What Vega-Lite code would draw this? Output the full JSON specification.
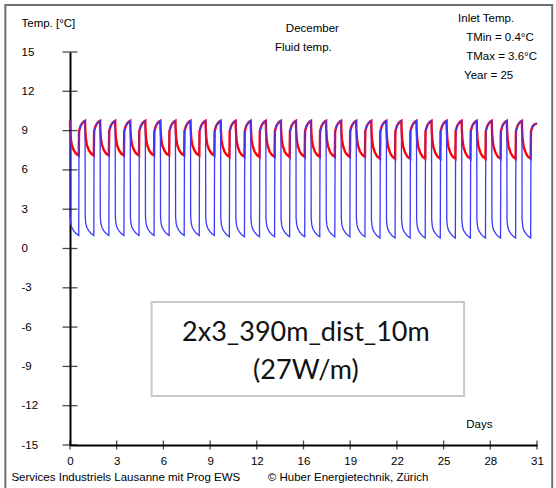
{
  "$schema": "https://vega.github.io/schema/vega-lite/v6.json",
  "autosize": "none",
  "width": 467,
  "height": 393,
  "padding": {"left": 70, "top": 52, "right": 19, "bottom": 43},
  "background": "white",
  "config": {
    "view": {"stroke": null},
    "axis": {"grid": false, "ticks": false, "tickSize": 0, "domainColor": "black", "domainWidth": 2, "labelFont": "Liberation Sans", "labelFontSize": 11.5, "labelColor": "black", "labelOverlap": false}
  },
  "datasets": {
    "frame": [{"x": -4.29, "x2": 32.01, "y": 18.59, "y2": -18.44}],
    "box": [{"x": 5.42, "x2": 26.16, "y": -4.08, "y2": -11.26}],
    "big": [{"x": 15.66, "y": -6.43, "t": "2x3_390m_dist_10m"}, {"x": 15.66, "y": -9.33, "t": "(27W/m)"}],
    "small": [
      {"x": -3.22, "y": 17.14, "t": "Temp. [°C]"},
      {"x": 14.33, "y": 16.76, "t": "December"},
      {"x": 13.6, "y": 15.31, "t": "Fluid temp."},
      {"x": 25.76, "y": 17.5, "t": "Inlet Temp."},
      {"x": 26.3, "y": 16.1, "t": "TMin  = 0.4°C"},
      {"x": 26.3, "y": 14.65, "t": "TMax = 3.6°C"},
      {"x": 26.16, "y": 13.2, "t": "Year = 25"},
      {"x": 26.3, "y": -13.47, "t": "Days"},
      {"x": -3.89, "y": -17.52, "t": "Services Industriels Lausanne mit Prog EWS"},
      {"x": 13.13, "y": -17.52, "t": "© Huber Energietechnik, Zürich"}
    ],
    "yt": [{"v": 15}, {"v": 12}, {"v": 9}, {"v": 6}, {"v": 3}, {"v": 0}, {"v": -3}, {"v": -6}, {"v": -9}, {"v": -12}, {"v": -15}],
    "xt": [{"v": 0}, {"v": 3.1}, {"v": 6.2}, {"v": 9.3}, {"v": 12.4}, {"v": 15.5}, {"v": 18.6}, {"v": 21.7}, {"v": 24.8}, {"v": 27.9}, {"v": 31}],
    "temp": [
{"d":0,"b":9.75,"r":9.75},{"d":0.01,"b":2.4,"r":9.2},{"d":0.05,"b":1.9,"r":8.4},{"d":0.12,"b":1.6,"r":7.9},{"d":0.25,"b":1.35,"r":7.5},{"d":0.4,"b":1.15,"r":7.25},{"d":0.58,"b":1.0,"r":7.1},{"d":0.6,"b":8.9,"r":8.95},{"d":0.7,"b":9.35,"r":9.35},{"d":0.8,"b":9.55,"r":9.55},{"d":0.9,"b":9.68,"r":9.68},
{"d":1,"b":9.75,"r":9.75},{"d":1.01,"b":2.4,"r":9.2},{"d":1.05,"b":1.9,"r":8.4},{"d":1.12,"b":1.6,"r":7.9},{"d":1.25,"b":1.35,"r":7.5},{"d":1.4,"b":1.15,"r":7.25},{"d":1.58,"b":1.0,"r":7.1},{"d":1.6,"b":8.9,"r":8.95},{"d":1.7,"b":9.35,"r":9.35},{"d":1.8,"b":9.55,"r":9.55},{"d":1.9,"b":9.68,"r":9.68},
{"d":2,"b":9.75,"r":9.75},{"d":2.01,"b":2.4,"r":9.2},{"d":2.05,"b":1.9,"r":8.4},{"d":2.12,"b":1.6,"r":7.9},{"d":2.25,"b":1.35,"r":7.5},{"d":2.4,"b":1.15,"r":7.25},{"d":2.58,"b":1.0,"r":7.1},{"d":2.6,"b":8.9,"r":8.95},{"d":2.7,"b":9.35,"r":9.35},{"d":2.8,"b":9.55,"r":9.55},{"d":2.9,"b":9.68,"r":9.68},
{"d":3,"b":9.75,"r":9.75},{"d":3.01,"b":2.4,"r":9.2},{"d":3.05,"b":1.9,"r":8.4},{"d":3.12,"b":1.6,"r":7.9},{"d":3.25,"b":1.35,"r":7.5},{"d":3.4,"b":1.15,"r":7.25},{"d":3.58,"b":1.0,"r":7.1},{"d":3.6,"b":8.9,"r":8.95},{"d":3.7,"b":9.35,"r":9.35},{"d":3.8,"b":9.55,"r":9.55},{"d":3.9,"b":9.68,"r":9.68},
{"d":4,"b":9.75,"r":9.75},{"d":4.01,"b":2.4,"r":9.2},{"d":4.05,"b":1.9,"r":8.4},{"d":4.12,"b":1.6,"r":7.9},{"d":4.25,"b":1.35,"r":7.5},{"d":4.4,"b":1.15,"r":7.25},{"d":4.58,"b":1.0,"r":7.1},{"d":4.6,"b":8.9,"r":8.95},{"d":4.7,"b":9.35,"r":9.35},{"d":4.8,"b":9.55,"r":9.55},{"d":4.9,"b":9.68,"r":9.68},
{"d":5,"b":9.75,"r":9.75},{"d":5.01,"b":2.4,"r":9.2},{"d":5.05,"b":1.9,"r":8.4},{"d":5.12,"b":1.6,"r":7.9},{"d":5.25,"b":1.35,"r":7.5},{"d":5.4,"b":1.15,"r":7.25},{"d":5.58,"b":1.0,"r":7.1},{"d":5.6,"b":8.9,"r":8.95},{"d":5.7,"b":9.35,"r":9.35},{"d":5.8,"b":9.55,"r":9.55},{"d":5.9,"b":9.68,"r":9.68},
{"d":6,"b":9.75,"r":9.75},{"d":6.01,"b":2.4,"r":9.2},{"d":6.05,"b":1.9,"r":8.4},{"d":6.12,"b":1.6,"r":7.9},{"d":6.25,"b":1.35,"r":7.5},{"d":6.4,"b":1.15,"r":7.25},{"d":6.58,"b":1.0,"r":7.1},{"d":6.6,"b":8.9,"r":8.95},{"d":6.7,"b":9.35,"r":9.35},{"d":6.8,"b":9.55,"r":9.55},{"d":6.9,"b":9.68,"r":9.68},
{"d":7,"b":9.75,"r":9.75},{"d":7.01,"b":2.4,"r":9.2},{"d":7.05,"b":1.9,"r":8.4},{"d":7.12,"b":1.6,"r":7.9},{"d":7.25,"b":1.35,"r":7.5},{"d":7.4,"b":1.15,"r":7.25},{"d":7.58,"b":1.0,"r":7.1},{"d":7.6,"b":8.9,"r":8.95},{"d":7.7,"b":9.35,"r":9.35},{"d":7.8,"b":9.55,"r":9.55},{"d":7.9,"b":9.68,"r":9.68},
{"d":8,"b":9.75,"r":9.75},{"d":8.01,"b":2.4,"r":9.2},{"d":8.05,"b":1.9,"r":8.4},{"d":8.12,"b":1.6,"r":7.9},{"d":8.25,"b":1.35,"r":7.5},{"d":8.4,"b":1.15,"r":7.25},{"d":8.58,"b":1.0,"r":7.1},{"d":8.6,"b":8.9,"r":8.95},{"d":8.7,"b":9.35,"r":9.35},{"d":8.8,"b":9.55,"r":9.55},{"d":8.9,"b":9.68,"r":9.68},
{"d":9,"b":9.75,"r":9.75},{"d":9.01,"b":2.4,"r":9.2},{"d":9.05,"b":1.9,"r":8.4},{"d":9.12,"b":1.6,"r":7.9},{"d":9.25,"b":1.35,"r":7.5},{"d":9.4,"b":1.15,"r":7.25},{"d":9.58,"b":1.0,"r":7.1},{"d":9.6,"b":8.9,"r":8.95},{"d":9.7,"b":9.35,"r":9.35},{"d":9.8,"b":9.55,"r":9.55},{"d":9.9,"b":9.68,"r":9.68},
{"d":10,"b":9.75,"r":9.75},{"d":10.01,"b":2.3,"r":9.15},{"d":10.05,"b":1.8,"r":8.35},{"d":10.12,"b":1.5,"r":7.85},{"d":10.25,"b":1.25,"r":7.4},{"d":10.4,"b":1.05,"r":7.15},{"d":10.58,"b":0.9,"r":7.0},{"d":10.6,"b":8.9,"r":8.95},{"d":10.7,"b":9.35,"r":9.35},{"d":10.8,"b":9.55,"r":9.55},{"d":10.9,"b":9.68,"r":9.68},
{"d":11,"b":9.75,"r":9.75},{"d":11.01,"b":2.3,"r":9.15},{"d":11.05,"b":1.8,"r":8.35},{"d":11.12,"b":1.5,"r":7.85},{"d":11.25,"b":1.25,"r":7.4},{"d":11.4,"b":1.05,"r":7.15},{"d":11.58,"b":0.9,"r":7.0},{"d":11.6,"b":8.9,"r":8.95},{"d":11.7,"b":9.35,"r":9.35},{"d":11.8,"b":9.55,"r":9.55},{"d":11.9,"b":9.68,"r":9.68},
{"d":12,"b":9.75,"r":9.75},{"d":12.01,"b":2.3,"r":9.15},{"d":12.05,"b":1.8,"r":8.35},{"d":12.12,"b":1.5,"r":7.85},{"d":12.25,"b":1.25,"r":7.4},{"d":12.4,"b":1.05,"r":7.15},{"d":12.58,"b":0.9,"r":7.0},{"d":12.6,"b":8.9,"r":8.95},{"d":12.7,"b":9.35,"r":9.35},{"d":12.8,"b":9.55,"r":9.55},{"d":12.9,"b":9.68,"r":9.68},
{"d":13,"b":9.75,"r":9.75},{"d":13.01,"b":2.3,"r":9.15},{"d":13.05,"b":1.8,"r":8.35},{"d":13.12,"b":1.5,"r":7.85},{"d":13.25,"b":1.25,"r":7.4},{"d":13.4,"b":1.05,"r":7.15},{"d":13.58,"b":0.9,"r":7.0},{"d":13.6,"b":8.9,"r":8.95},{"d":13.7,"b":9.35,"r":9.35},{"d":13.8,"b":9.55,"r":9.55},{"d":13.9,"b":9.68,"r":9.68},
{"d":14,"b":9.75,"r":9.75},{"d":14.01,"b":2.3,"r":9.15},{"d":14.05,"b":1.8,"r":8.35},{"d":14.12,"b":1.5,"r":7.85},{"d":14.25,"b":1.25,"r":7.4},{"d":14.4,"b":1.05,"r":7.15},{"d":14.58,"b":0.9,"r":7.0},{"d":14.6,"b":8.9,"r":8.95},{"d":14.7,"b":9.35,"r":9.35},{"d":14.8,"b":9.55,"r":9.55},{"d":14.9,"b":9.68,"r":9.68},
{"d":15,"b":9.75,"r":9.75},{"d":15.01,"b":2.3,"r":9.15},{"d":15.05,"b":1.8,"r":8.35},{"d":15.12,"b":1.5,"r":7.85},{"d":15.25,"b":1.25,"r":7.4},{"d":15.4,"b":1.05,"r":7.15},{"d":15.58,"b":0.9,"r":7.0},{"d":15.6,"b":8.9,"r":8.95},{"d":15.7,"b":9.35,"r":9.35},{"d":15.8,"b":9.55,"r":9.55},{"d":15.9,"b":9.68,"r":9.68},
{"d":16,"b":9.75,"r":9.75},{"d":16.01,"b":2.3,"r":9.15},{"d":16.05,"b":1.8,"r":8.35},{"d":16.12,"b":1.5,"r":7.85},{"d":16.25,"b":1.25,"r":7.4},{"d":16.4,"b":1.05,"r":7.15},{"d":16.58,"b":0.9,"r":7.0},{"d":16.6,"b":8.9,"r":8.95},{"d":16.7,"b":9.35,"r":9.35},{"d":16.8,"b":9.55,"r":9.55},{"d":16.9,"b":9.68,"r":9.68},
{"d":17,"b":9.75,"r":9.75},{"d":17.01,"b":2.3,"r":9.15},{"d":17.05,"b":1.8,"r":8.35},{"d":17.12,"b":1.5,"r":7.85},{"d":17.25,"b":1.25,"r":7.4},{"d":17.4,"b":1.05,"r":7.15},{"d":17.58,"b":0.9,"r":7.0},{"d":17.6,"b":8.9,"r":8.95},{"d":17.7,"b":9.35,"r":9.35},{"d":17.8,"b":9.55,"r":9.55},{"d":17.9,"b":9.68,"r":9.68},
{"d":18,"b":9.75,"r":9.75},{"d":18.01,"b":2.3,"r":9.15},{"d":18.05,"b":1.8,"r":8.35},{"d":18.12,"b":1.5,"r":7.85},{"d":18.25,"b":1.25,"r":7.4},{"d":18.4,"b":1.05,"r":7.15},{"d":18.58,"b":0.9,"r":7.0},{"d":18.6,"b":8.9,"r":8.95},{"d":18.7,"b":9.35,"r":9.35},{"d":18.8,"b":9.55,"r":9.55},{"d":18.9,"b":9.68,"r":9.68},
{"d":19,"b":9.75,"r":9.75},{"d":19.01,"b":2.3,"r":9.15},{"d":19.05,"b":1.8,"r":8.35},{"d":19.12,"b":1.5,"r":7.85},{"d":19.25,"b":1.25,"r":7.4},{"d":19.4,"b":1.05,"r":7.15},{"d":19.58,"b":0.9,"r":7.0},{"d":19.6,"b":8.9,"r":8.95},{"d":19.7,"b":9.35,"r":9.35},{"d":19.8,"b":9.55,"r":9.55},{"d":19.9,"b":9.68,"r":9.68},
{"d":20,"b":9.75,"r":9.75},{"d":20.01,"b":2.2,"r":9.1},{"d":20.05,"b":1.7,"r":8.3},{"d":20.12,"b":1.4,"r":7.75},{"d":20.25,"b":1.15,"r":7.3},{"d":20.4,"b":0.95,"r":7.0},{"d":20.58,"b":0.8,"r":6.85},{"d":20.6,"b":8.9,"r":8.95},{"d":20.7,"b":9.35,"r":9.35},{"d":20.8,"b":9.55,"r":9.55},{"d":20.9,"b":9.68,"r":9.68},
{"d":21,"b":9.75,"r":9.75},{"d":21.01,"b":2.2,"r":9.1},{"d":21.05,"b":1.7,"r":8.3},{"d":21.12,"b":1.4,"r":7.75},{"d":21.25,"b":1.15,"r":7.3},{"d":21.4,"b":0.95,"r":7.0},{"d":21.58,"b":0.8,"r":6.85},{"d":21.6,"b":8.9,"r":8.95},{"d":21.7,"b":9.35,"r":9.35},{"d":21.8,"b":9.55,"r":9.55},{"d":21.9,"b":9.68,"r":9.68},
{"d":22,"b":9.75,"r":9.75},{"d":22.01,"b":2.2,"r":9.1},{"d":22.05,"b":1.7,"r":8.3},{"d":22.12,"b":1.4,"r":7.75},{"d":22.25,"b":1.15,"r":7.3},{"d":22.4,"b":0.95,"r":7.0},{"d":22.58,"b":0.8,"r":6.85},{"d":22.6,"b":8.9,"r":8.95},{"d":22.7,"b":9.35,"r":9.35},{"d":22.8,"b":9.55,"r":9.55},{"d":22.9,"b":9.68,"r":9.68},
{"d":23,"b":9.75,"r":9.75},{"d":23.01,"b":2.2,"r":9.1},{"d":23.05,"b":1.7,"r":8.3},{"d":23.12,"b":1.4,"r":7.75},{"d":23.25,"b":1.15,"r":7.3},{"d":23.4,"b":0.95,"r":7.0},{"d":23.58,"b":0.8,"r":6.85},{"d":23.6,"b":8.9,"r":8.95},{"d":23.7,"b":9.35,"r":9.35},{"d":23.8,"b":9.55,"r":9.55},{"d":23.9,"b":9.68,"r":9.68},
{"d":24,"b":9.75,"r":9.75},{"d":24.01,"b":2.2,"r":9.1},{"d":24.05,"b":1.7,"r":8.3},{"d":24.12,"b":1.4,"r":7.75},{"d":24.25,"b":1.15,"r":7.3},{"d":24.4,"b":0.95,"r":7.0},{"d":24.58,"b":0.8,"r":6.85},{"d":24.6,"b":8.9,"r":8.95},{"d":24.7,"b":9.35,"r":9.35},{"d":24.8,"b":9.55,"r":9.55},{"d":24.9,"b":9.68,"r":9.68},
{"d":25,"b":9.75,"r":9.75},{"d":25.01,"b":2.2,"r":9.1},{"d":25.05,"b":1.7,"r":8.3},{"d":25.12,"b":1.4,"r":7.75},{"d":25.25,"b":1.15,"r":7.3},{"d":25.4,"b":0.95,"r":7.0},{"d":25.58,"b":0.8,"r":6.85},{"d":25.6,"b":8.9,"r":8.95},{"d":25.7,"b":9.35,"r":9.35},{"d":25.8,"b":9.55,"r":9.55},{"d":25.9,"b":9.68,"r":9.68},
{"d":26,"b":9.75,"r":9.75},{"d":26.01,"b":2.2,"r":9.1},{"d":26.05,"b":1.7,"r":8.3},{"d":26.12,"b":1.4,"r":7.75},{"d":26.25,"b":1.15,"r":7.3},{"d":26.4,"b":0.95,"r":7.0},{"d":26.58,"b":0.8,"r":6.85},{"d":26.6,"b":8.9,"r":8.95},{"d":26.7,"b":9.35,"r":9.35},{"d":26.8,"b":9.55,"r":9.55},{"d":26.9,"b":9.68,"r":9.68},
{"d":27,"b":9.75,"r":9.75},{"d":27.01,"b":2.2,"r":9.1},{"d":27.05,"b":1.7,"r":8.3},{"d":27.12,"b":1.4,"r":7.75},{"d":27.25,"b":1.15,"r":7.3},{"d":27.4,"b":0.95,"r":7.0},{"d":27.58,"b":0.8,"r":6.85},{"d":27.6,"b":8.9,"r":8.95},{"d":27.7,"b":9.35,"r":9.35},{"d":27.8,"b":9.55,"r":9.55},{"d":27.9,"b":9.68,"r":9.68},
{"d":28,"b":9.75,"r":9.75},{"d":28.01,"b":2.2,"r":9.1},{"d":28.05,"b":1.7,"r":8.3},{"d":28.12,"b":1.4,"r":7.75},{"d":28.25,"b":1.15,"r":7.3},{"d":28.4,"b":0.95,"r":7.0},{"d":28.58,"b":0.8,"r":6.85},{"d":28.6,"b":8.9,"r":8.95},{"d":28.7,"b":9.35,"r":9.35},{"d":28.8,"b":9.55,"r":9.55},{"d":28.9,"b":9.68,"r":9.68},
{"d":29,"b":9.75,"r":9.75},{"d":29.01,"b":2.2,"r":9.1},{"d":29.05,"b":1.7,"r":8.3},{"d":29.12,"b":1.4,"r":7.75},{"d":29.25,"b":1.15,"r":7.3},{"d":29.4,"b":0.95,"r":7.0},{"d":29.58,"b":0.8,"r":6.85},{"d":29.6,"b":8.9,"r":8.95},{"d":29.7,"b":9.35,"r":9.35},{"d":29.8,"b":9.55,"r":9.55},{"d":29.9,"b":9.68,"r":9.68},
{"d":30,"b":9.75,"r":9.75},{"d":30.01,"b":2.2,"r":9.1},{"d":30.05,"b":1.7,"r":8.3},{"d":30.12,"b":1.4,"r":7.75},{"d":30.25,"b":1.15,"r":7.3},{"d":30.4,"b":0.95,"r":7.0},{"d":30.58,"b":0.8,"r":6.85},{"d":30.6,"b":8.9,"r":8.95},{"d":30.7,"b":9.3,"r":9.3},{"d":30.8,"b":9.45,"r":9.45},{"d":31,"b":9.55,"r":9.55}
    ]
  },
  "layer": [
    {
      "data": {"name": "temp"},
      "mark": {"type": "line", "color": "#ff0000", "strokeWidth": 2.4, "interpolate": "linear"},
      "encoding": {
        "x": {"field": "d", "type": "quantitative", "title": null, "scale": {"domain": [0, 31], "nice": false, "zero": false}, "axis": {"values": [0, 3.1, 6.2, 9.3, 12.4, 15.5, 18.6, 21.7, 24.8, 27.9, 31], "tickCount": 40, "labelExpr": "'' + round(datum.value)", "labelPadding": 10, "labelFlush": false, "labelOverlap": false}},
        "y": {"field": "r", "type": "quantitative", "title": null, "scale": {"domain": [-15, 15], "nice": false, "zero": false}, "axis": {"values": [15, 12, 9, 6, 3, 0, -3, -6, -9, -12, -15], "tickCount": 40, "labelExpr": "'' + datum.value", "labelAlign": "left", "labelPadding": 49, "labelFlush": false, "labelOverlap": false}}
      }
    },
    {
      "data": {"name": "temp"},
      "mark": {"type": "line", "color": "#3a3aff", "strokeWidth": 1.3, "interpolate": "linear"},
      "encoding": {
        "x": {"field": "d", "type": "quantitative", "title": null},
        "y": {"field": "b", "type": "quantitative", "title": null}
      }
    },
    {
      "data": {"name": "frame"},
      "mark": {"type": "rect", "fill": "transparent", "stroke": "#707070", "strokeWidth": 2},
      "encoding": {
        "x": {"field": "x", "type": "quantitative", "title": null},
        "x2": {"field": "x2"},
        "y": {"field": "y", "type": "quantitative", "title": null},
        "y2": {"field": "y2"}
      }
    },
    {
      "data": {"name": "yt"},
      "mark": {"type": "tick", "orient": "horizontal", "color": "black", "size": 15, "thickness": 1.3},
      "encoding": {
        "x": {"datum": 0, "type": "quantitative", "title": null},
        "y": {"field": "v", "type": "quantitative", "title": null}
      }
    },
    {
      "data": {"name": "xt"},
      "mark": {"type": "tick", "orient": "vertical", "color": "black", "size": 9, "thickness": 1.3},
      "encoding": {
        "x": {"field": "v", "type": "quantitative", "title": null},
        "y": {"datum": -15, "type": "quantitative", "title": null}
      }
    },
    {
      "data": {"name": "box"},
      "mark": {"type": "rect", "fill": "white", "stroke": "#c8c8c8", "strokeWidth": 2},
      "encoding": {
        "x": {"field": "x", "type": "quantitative", "title": null},
        "x2": {"field": "x2"},
        "y": {"field": "y", "type": "quantitative", "title": null},
        "y2": {"field": "y2"}
      }
    },
    {
      "data": {"name": "big"},
      "mark": {"type": "text", "font": "Lato", "fontSize": 27, "align": "center", "baseline": "middle", "color": "#111111"},
      "encoding": {
        "x": {"field": "x", "type": "quantitative", "title": null},
        "y": {"field": "y", "type": "quantitative", "title": null},
        "text": {"field": "t"}
      }
    },
    {
      "data": {"name": "small"},
      "mark": {"type": "text", "font": "Liberation Sans", "fontSize": 11.5, "align": "left", "baseline": "middle", "color": "black"},
      "encoding": {
        "x": {"field": "x", "type": "quantitative", "title": null},
        "y": {"field": "y", "type": "quantitative", "title": null},
        "text": {"field": "t"}
      }
    }
  ]
}
